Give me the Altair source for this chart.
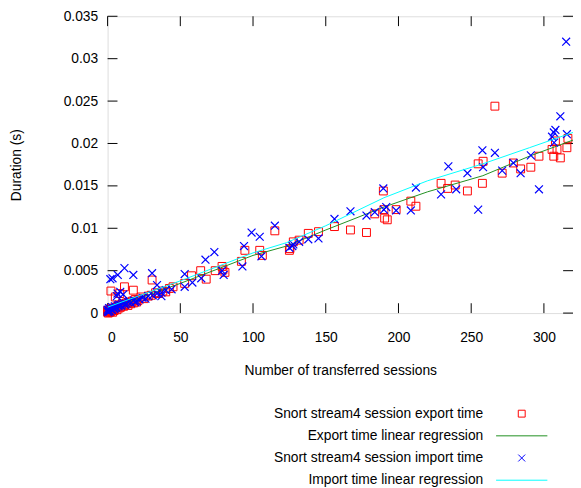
import altair as alt
import pandas as pd

SERIES = ["Snort stream4 session export time", "Export time linear regression",
          "Snort stream4 session import time", "Import time linear regression"]
COLORS = ["#ff0000", "#1f8f1f", "#0000ff", "#00ffff"]
CROSS = "M-1,-1L1,1M-1,1L1,-1"
DASH = "M-7.43,0L7.43,0"
SHAPES = ["square", DASH, CROSS, DASH]

X_TICKS = [0, 50, 100, 150, 200, 250, 300]
Y_TICKS = [0, 0.005, 0.01, 0.015, 0.02, 0.025, 0.03, 0.035]

EXPORT_X = [0, 0, 1, 1, 2, 2, 3, 4, 5, 6, 7, 8, 9, 10, 12, 13, 15, 17, 19, 21, 23, 25, 28, 30, 33, 35, 38, 40,
            0.5, 1.5, 2.5, 3.5, 4.5, 6.5, 8, 11, 14, 16, 18, 20,
            2.3, 5.3, 8.4, 11.6, 17.7, 30.6, 42.5, 45, 53, 57.7, 64, 67.8, 74, 78.7, 79.3, 80.7, 92, 94.4,
            104.6, 106.4, 115, 125.4, 125, 127.7, 131.7, 138, 145, 156, 167, 178, 183.7, 189.6, 190, 190.5,
            192.3, 198.4, 208.5, 212, 229.3, 233.8, 239, 247.4, 254.8, 257.7, 258.2, 266.3, 271.3, 279,
            284, 291, 296.6, 305.6, 306.8, 307.9, 309, 311.3, 315.8, 316.5]
EXPORT_Y = [0.0001, 0.0003, 0.0002, 0.0004, 0.0003, 0.0005, 0.0004, 0.0006, 0.0005, 0.0007, 0.0008, 0.0009,
            0.0007, 0.0011, 0.0010, 0.0012, 0.0013, 0.0014, 0.0016, 0.0015, 0.0019, 0.0017, 0.0020, 0.0021,
            0.0024, 0.0023, 0.0026, 0.0025,
            0.0000, 0.0001, 0.0002, 0.0001, 0.0003, 0.0004, 0.0006, 0.0008, 0.0009, 0.0011, 0.0012, 0.0013,
            0.0026, 0.0019, 0.0023, 0.0031, 0.0027, 0.0039, 0.0029, 0.0031, 0.0035, 0.0044, 0.0050, 0.0040,
            0.0050, 0.0055, 0.0051, 0.0048, 0.0061, 0.0074, 0.0074, 0.0068, 0.0097, 0.0076, 0.0074, 0.0084,
            0.0086, 0.0094, 0.0096, 0.0102, 0.0098, 0.0095, 0.0117, 0.0144, 0.0122, 0.0112, 0.0110, 0.0122,
            0.0132, 0.0126, 0.0153, 0.0147, 0.0151, 0.0144, 0.0176, 0.0153, 0.0179, 0.0244, 0.0165, 0.0177,
            0.0170, 0.0172, 0.0185, 0.0193, 0.0185, 0.0203, 0.0193, 0.0183, 0.0195, 0.0206]

IMPORT_X = [0, 0, 1, 1, 2, 3, 3, 4, 5, 6, 7, 8, 9, 10, 11, 12, 14, 16, 18, 20, 22, 24, 26, 28, 31, 34, 37, 40,
            0.5, 1.5, 2.5, 4.5, 5.5, 7.5, 9.5, 13, 15, 19,
            1.9, 3.4, 6.4, 6.8, 7, 8.7, 10.7, 11.6, 17.7, 30.6, 34, 37, 44, 53, 53, 58.3, 64.4, 67.3, 73.4,
            78.7, 79.8, 92.7, 93.8, 99, 104.6, 105.8, 115, 125, 127, 127.7, 131.7, 138, 145, 156, 167, 178,
            183.7, 189.6, 190, 191.6, 198.4, 208.5, 212, 229.3, 234.3, 239.7, 247.4, 254.8, 257.7, 258.2,
            266.3, 271.3, 279, 284, 291, 296.6, 305.6, 306.8, 307.9, 307, 311.3, 315.8, 315.3]
IMPORT_Y = [0.0002, 0.0004, 0.0003, 0.0006, 0.0005, 0.0004, 0.0007, 0.0006, 0.0008, 0.0007, 0.0009, 0.0010,
            0.0009, 0.0011, 0.0012, 0.0010, 0.0013, 0.0012, 0.0015, 0.0014, 0.0016, 0.0018, 0.0017, 0.0020,
            0.0021, 0.0023, 0.0024, 0.0027,
            0.0001, 0.0002, 0.0004, 0.0005, 0.0006, 0.0008, 0.0009, 0.0011, 0.0014, 0.0013,
            0.0040, 0.0041, 0.0020, 0.0023, 0.0045, 0.0025, 0.0022, 0.0053, 0.0045, 0.0047, 0.0033, 0.0020,
            0.0028, 0.0046, 0.0031, 0.0036, 0.0041, 0.0063, 0.0072, 0.0050, 0.0045, 0.0055, 0.0079, 0.0095,
            0.0090, 0.0067, 0.0103, 0.0077, 0.0079, 0.0081, 0.0084, 0.0087, 0.0088, 0.0111, 0.0120, 0.0115,
            0.0119, 0.0147, 0.0122, 0.0125, 0.0121, 0.0121, 0.0148, 0.0140, 0.0173, 0.0146, 0.0165, 0.0122,
            0.0192, 0.0172, 0.0189, 0.0168, 0.0177, 0.0165, 0.0186, 0.0146, 0.0208, 0.0213, 0.0216, 0.0201,
            0.0232, 0.0211, 0.0320]

EXPORT_FIT_X = [0, 50, 100, 123, 150, 190, 220, 258, 290, 320]
EXPORT_FIT_Y = [0.0004, 0.0035, 0.0068, 0.0079, 0.0098, 0.0125, 0.0143, 0.0162, 0.0185, 0.0204]
IMPORT_FIT_X = [0, 50, 100, 123, 150, 190, 220, 258, 290, 320]
IMPORT_FIT_Y = [0.0007, 0.0038, 0.0071, 0.0083, 0.0103, 0.0136, 0.0156, 0.0176, 0.0195, 0.0213]

FONT = "Liberation Sans"
X_MAX = 320
Y_MAX = 0.035
TICK_DX = 6.8
TICK_DY = 0.00116

exp_pts = pd.DataFrame({"x": EXPORT_X, "y": EXPORT_Y, "series": SERIES[0]})
exp_fit = pd.DataFrame({"x": EXPORT_FIT_X, "y": EXPORT_FIT_Y, "series": SERIES[1]})
imp_pts = pd.DataFrame({"x": IMPORT_X, "y": IMPORT_Y, "series": SERIES[2]})
imp_fit = pd.DataFrame({"x": IMPORT_FIT_X, "y": IMPORT_FIT_Y, "series": SERIES[3]})
xt = pd.DataFrame({"t": X_TICKS})
yt = pd.DataFrame({"t": Y_TICKS})

xscale = alt.Scale(domain=[0, X_MAX], nice=False, zero=False)
yscale = alt.Scale(domain=[0, Y_MAX], nice=False, zero=False)

xaxis = alt.Axis(values=X_TICKS, ticks=False, domain=False, grid=False, labelFontSize=14,
                 labelPadding=18, labelFont=FONT, labelColor="black", title="Number of transferred sessions",
                 titleFont=FONT, titleFontSize=14, titleFontWeight="normal", titleColor="black",
                 titlePadding=19)
yaxis = alt.Axis(values=Y_TICKS, ticks=False, domain=False, grid=False, labelFontSize=14, format="~g",
                 labelPadding=10, labelFont=FONT, labelColor="black", title="Duration (s)",
                 titleFont=FONT, titleFontSize=14, titleFontWeight="normal", titleColor="black",
                 titlePadding=40)

legend = alt.Legend(orient="none", legendX=413, legendY=396, title=None, labelAlign="right",
                    labelOffset={"expr": "-46"}, labelFontSize=14, labelFont=FONT, labelColor="black",
                    labelLimit=400, rowPadding=8.5, padding=0, symbolStrokeWidth=1, symbolSize=49,
                    symbolFillColor="transparent")

color = alt.Color("series:N", scale=alt.Scale(domain=SERIES, range=COLORS), legend=legend)
shape = alt.Shape("series:N", scale=alt.Scale(domain=SERIES, range=SHAPES), legend=legend)

X = alt.X("x:Q", scale=xscale, axis=xaxis)
Y = alt.Y("y:Q", scale=yscale, axis=yaxis)

l1 = alt.Chart(exp_pts).mark_point(filled=False, opacity=1, strokeWidth=1, size=64).encode(
    x=X, y=Y, color=color, shape=shape)
l2 = alt.Chart(exp_fit).mark_line(strokeWidth=1, clip=True).encode(x=X, y=Y, color=color)
l3 = alt.Chart(imp_pts).mark_point(filled=False, opacity=1, strokeWidth=1.2, size=64).encode(
    x=X, y=Y, color=color, shape=shape)
l4 = alt.Chart(imp_fit).mark_line(strokeWidth=1, clip=True).encode(x=X, y=Y, color=color)

tb = alt.Chart(xt).mark_rule(color="black", strokeWidth=1).encode(
    x=alt.X("t:Q", scale=xscale, axis=xaxis), y=alt.datum(0), y2=alt.datum(TICK_DY))
tt = alt.Chart(xt).mark_rule(color="black", strokeWidth=1).encode(
    x=alt.X("t:Q", scale=xscale, axis=xaxis), y=alt.datum(Y_MAX), y2=alt.datum(Y_MAX - TICK_DY))
tl = alt.Chart(yt).mark_rule(color="black", strokeWidth=1).encode(
    y=alt.Y("t:Q", scale=yscale, axis=yaxis), x=alt.datum(0), x2=alt.datum(TICK_DX))
tr = alt.Chart(yt).mark_rule(color="black", strokeWidth=1).encode(
    y=alt.Y("t:Q", scale=yscale, axis=yaxis), x=alt.datum(X_MAX), x2=alt.datum(X_MAX - TICK_DX))

chart = alt.layer(tb, tt, tl, tr, l1, l2, l3, l4).properties(
    width=472, height=301,
    autosize=alt.AutoSizeParams(type="none"),
    padding={"left": 101, "top": 5, "right": 0, "bottom": 174},
).configure_view(stroke="black", strokeWidth=1).configure(font=FONT, background="white")

chart.save("out.html", embed_options={"renderer": "svg", "actions": False})
